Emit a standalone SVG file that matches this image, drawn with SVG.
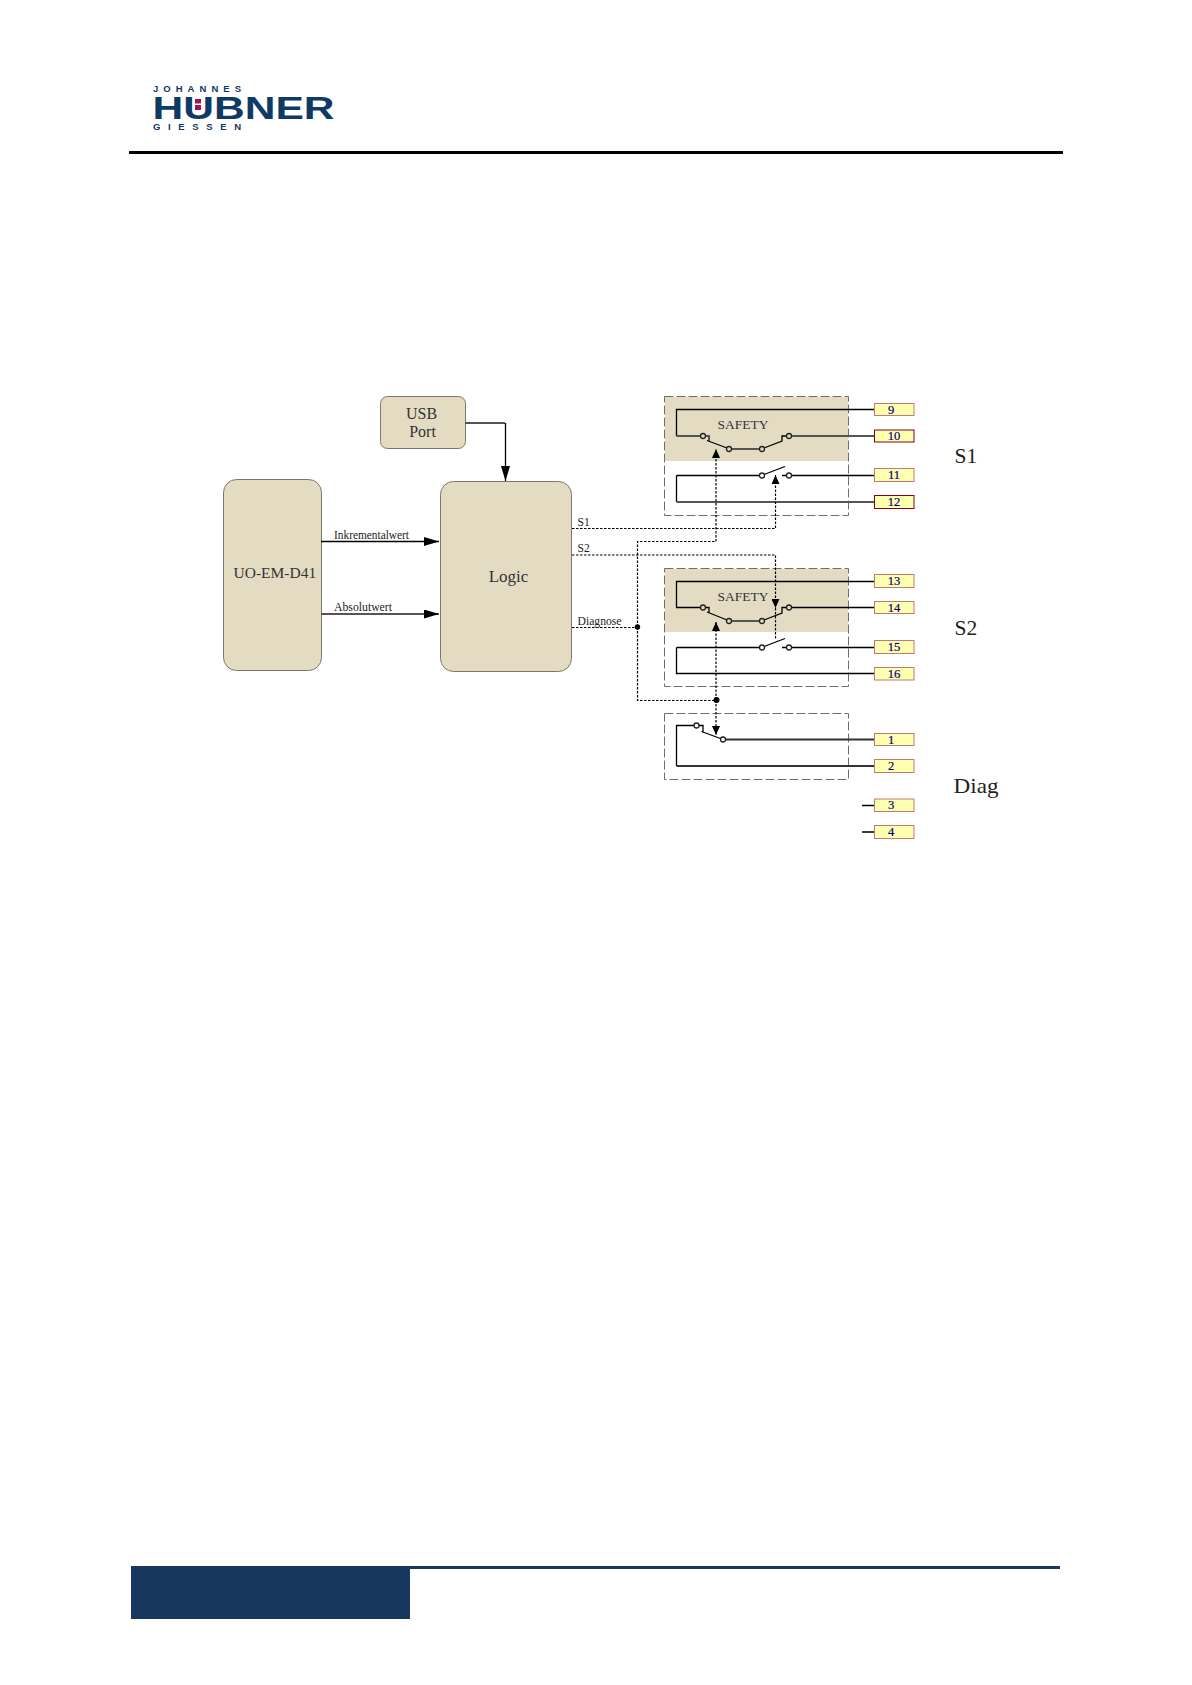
<svg xmlns="http://www.w3.org/2000/svg" width="1192" height="1685" viewBox="0 0 1192 1685">
<style>
text{font-family:"Liberation Serif","Times New Roman",serif;fill:#333}
.logo{font-family:"Liberation Sans",Arial,sans-serif;font-weight:700;fill:#0f3a63}
.box{fill:#E3DCC3;stroke:#7d7768;stroke-width:1}
.band{fill:#E3DCC3}
.frame{fill:none;stroke:#6e6e6e;stroke-width:1;stroke-dasharray:9 3}
.w{fill:none;stroke:#000;stroke-width:1.3}
.g{fill:none;stroke:#555;stroke-width:2}
.d{fill:none;stroke:#000;stroke-width:1.2;stroke-dasharray:2.5 1.5}
.c{fill:none;stroke:#222;stroke-width:1.3}
.t{fill:#FFFFB0;stroke:#C07878;stroke-width:1}
.n{fill:#000080;stroke:#000080;stroke-width:.2;font-size:12.5px;text-anchor:middle}
.s{font-size:11.5px;fill:#222}
.big{font-size:21.5px;fill:#222}
</style>
<defs>
<marker id="a" markerUnits="userSpaceOnUse" markerWidth="15" markerHeight="9" refX="15" refY="4.5" orient="auto"><path d="M0 0L15 4.5L0 9Z" fill="#000"/></marker>
<marker id="b" markerUnits="userSpaceOnUse" markerWidth="9" markerHeight="8" refX="9" refY="4" orient="auto"><path d="M0 0L9 4L0 8Z" fill="#000"/></marker>
<clipPath id="capclip"><rect x="150" y="97" width="190" height="23"/></clipPath>
</defs>
<g id="header">
<text class="logo" x="153" y="92" font-size="9.500" textLength="88" lengthAdjust="spacing">JOHANNES</text>
<g clip-path="url(#capclip)"><text class="logo" x="152.500" y="119.300" font-size="31" textLength="182" lengthAdjust="spacingAndGlyphs">HÜBNER</text></g>
<rect x="195" y="99" width="6" height="4.500" fill="#a3144f"/><rect x="195" y="105" width="6" height="5" fill="#a3144f"/>
<text class="logo" x="153" y="129.500" font-size="9.500" textLength="88" lengthAdjust="spacing">GIESSEN</text>
<rect x="129" y="151" width="934" height="3" fill="#000"/>
</g>
<g id="footer"><rect x="131" y="1566" width="279" height="53" fill="#17375E"/><rect x="131" y="1566" width="929" height="3" fill="#17375E"/></g>

<g id="usb"><rect class="box" x="380.500" y="396.500" width="85" height="52" rx="7"/><text x="421.500" y="419" font-size="16" text-anchor="middle">USB</text><text x="422.500" y="437" font-size="16" text-anchor="middle">Port</text></g>
<g id="encoder"><rect class="box" x="223.500" y="479.500" width="98" height="191" rx="13"/><text x="233.500" y="578" font-size="15.500">UO-EM-D41</text></g>
<g id="logic"><rect class="box" x="440.500" y="481.500" width="131" height="190" rx="13"/><text x="508.500" y="582" font-size="17" text-anchor="middle">Logic</text></g>

<g id="s1-block">
<rect class="band" x="665" y="397" width="183" height="64"/>
<rect class="frame" x="664.500" y="396.500" width="184" height="119"/>
<text x="743" y="429" font-size="13.500" text-anchor="middle">SAFETY</text>
</g>
<g id="s2-block">
<rect class="band" x="665" y="569" width="183" height="63"/>
<rect class="frame" x="664.500" y="568.500" width="184" height="118"/>
<text x="743" y="601" font-size="13.500" text-anchor="middle">SAFETY</text>
</g>
<g id="diag-block"><rect class="frame" x="664.500" y="713.500" width="184" height="66"/></g>

<g id="connectors">
<path class="g" d="M465 423H505"/>
<path class="w" d="M505.500 423V481" marker-end="url(#a)"/>
<path class="w" d="M321 541.500H439" marker-end="url(#a)"/>
<path class="g" d="M321 614H439" marker-end="url(#a)"/>
<!-- S1 switch -->
<path class="w" d="M875 409.500H676.500V436"/>
<path class="g" d="M676.500 436H700.500M705.500 436H709V441"/>
<path class="w" d="M707 440.500L727 448M764 448L782 441V436H786.500"/>
<path class="g" d="M731.500 449H760M791.500 436H875"/>
<circle class="c" cx="703" cy="436" r="2.500"/><circle class="c" cx="729" cy="449" r="2.500"/><circle class="c" cx="762" cy="449" r="2.500"/><circle class="c" cx="789" cy="436" r="2.500"/>
<path class="w" d="M676.500 475.500H759.500M764 474.500L785 466.500M782 475.500H786.500M791.500 475.500H875M676.500 475.500V502"/>
<path class="g" d="M676.500 502H875"/>
<circle class="c" cx="762" cy="475.500" r="2.500"/><circle class="c" cx="789" cy="475.500" r="2.500"/>
<!-- S2 switch -->
<path class="w" d="M875 581.500H676.500V607.500H700.500M705.500 607.500H709V613M707 612L727 620M764 620L782 613V607.500H786.500M791.500 607.500H875"/>
<path class="g" d="M731.500 621H760"/>
<circle class="c" cx="703" cy="607.500" r="2.500"/><circle class="c" cx="729" cy="621" r="2.500"/><circle class="c" cx="762" cy="621" r="2.500"/><circle class="c" cx="789" cy="607.500" r="2.500"/>
<path class="w" d="M676.500 647.500H759.500M764 646.500L785 638.500M782 647.500H786.500M791.500 647.500H875M676.500 647.500V673.500H875"/>
<circle class="c" cx="762" cy="647.500" r="2.500"/><circle class="c" cx="789" cy="647.500" r="2.500"/>
<!-- Diag switch -->
<path class="w" d="M694 725.500H676.500V766M699 725.500H703V732M701.500 731.500L720.500 738.500"/>
<path class="g" d="M725.500 739.500H875M676.500 766H875" style="stroke:#333"/>
<circle class="c" cx="696.500" cy="725.500" r="2.500"/><circle class="c" cx="723" cy="739.500" r="2.500"/>
<path class="w" d="M862 805.500H875M862 832H875"/>
<!-- control lines -->
<path class="d" d="M572 528.500H775.500V475" marker-end="url(#b)"/>
<path class="d" d="M572 555H775.500V608" marker-end="url(#b)"/>
<path class="d" d="M775.500 608V640"/>
<path class="d" d="M572 627.500H637"/>
<path class="d" d="M637.500 627V541.500H716V449" marker-end="url(#b)"/>
<path class="d" d="M637.500 627V700.500H716"/>
<path class="d" d="M716 700V622" marker-end="url(#b)"/>
<path class="d" d="M716 700V735" marker-end="url(#b)"/>
<circle cx="637.500" cy="627" r="2.700"/><circle cx="716.500" cy="700" r="3"/>
</g>
<g id="conn-labels">
<text class="s" x="334" y="538.500" textLength="75" lengthAdjust="spacingAndGlyphs">Inkrementalwert</text>
<text class="s" x="334" y="611" textLength="58" lengthAdjust="spacingAndGlyphs">Absolutwert</text>
<text class="s" x="577.500" y="526">S1</text>
<text class="s" x="577.500" y="552">S2</text>
<text class="s" x="577.500" y="625" textLength="44" lengthAdjust="spacingAndGlyphs">Diagnose</text>
</g>
<g id="t9"><rect class="t" x="874.500" y="403.500" width="39.500" height="12"/><text class="n" x="891" y="413.500">9</text></g>
<g id="t10"><rect class="t" x="874.500" y="430" width="39.500" height="12" style="stroke:#800020"/><text class="n" x="894" y="440">10</text></g>
<g id="t11"><rect class="t" x="874.500" y="468.500" width="39.500" height="13"/><text class="n" x="894" y="479">11</text></g>
<g id="t12"><rect class="t" x="874.500" y="495.500" width="39.500" height="13" style="stroke:#800020"/><text class="n" x="894" y="506">12</text></g>
<g id="t13"><rect class="t" x="874.500" y="574.500" width="39.500" height="13"/><text class="n" x="894" y="585">13</text></g>
<g id="t14"><rect class="t" x="874.500" y="601.500" width="39.500" height="12"/><text class="n" x="894" y="611.500">14</text></g>
<g id="t15"><rect class="t" x="874.500" y="640.500" width="39.500" height="13"/><text class="n" x="894" y="651">15</text></g>
<g id="t16"><rect class="t" x="874.500" y="667.500" width="39.500" height="12.500"/><text class="n" x="894" y="677.500">16</text></g>
<g id="t1"><rect class="t" x="874.500" y="733.500" width="39.500" height="12"/><text class="n" x="891" y="743.500">1</text></g>
<g id="t2"><rect class="t" x="874.500" y="759.500" width="39.500" height="13"/><text class="n" x="891" y="770">2</text></g>
<g id="t3"><rect class="t" x="874.500" y="799" width="39.500" height="12.500"/><text class="n" x="891" y="809">3</text></g>
<g id="t4"><rect class="t" x="874.500" y="825.500" width="39.500" height="13"/><text class="n" x="891" y="836">4</text></g>
<g id="group-labels">
<text class="big" x="954.500" y="462.500">S1</text>
<text class="big" x="954.500" y="635">S2</text>
<text class="big" x="953.500" y="793" textLength="45" lengthAdjust="spacingAndGlyphs">Diag</text>
</g>
</svg>
